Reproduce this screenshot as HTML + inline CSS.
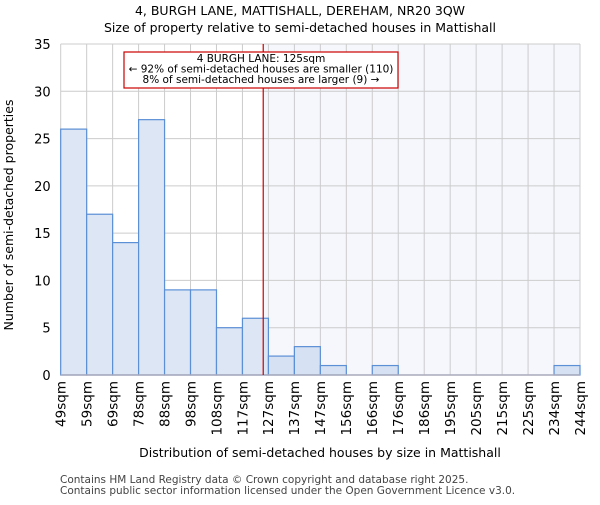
<!DOCTYPE html>
<html><head><meta charset="utf-8"><style>body{margin:0;background:#fff}svg text{font-family:"DejaVu Sans","Liberation Sans",sans-serif}</style></head><body>
<svg id="c" width="600" height="500" xmlns="http://www.w3.org/2000/svg"></svg>
<script>
const tickLabels=["49sqm","59sqm","69sqm","78sqm","88sqm","98sqm","108sqm","117sqm","127sqm","137sqm","147sqm","156sqm","166sqm","176sqm","186sqm","195sqm","205sqm","215sqm","225sqm","234sqm","244sqm"];
const counts=[26,17,14,27,9,9,5,6,2,3,1,0,1,0,0,0,0,0,0,1];
const yTicks=[0,5,10,15,20,25,30,35];
const propertyBin=7.8;
const L=60.7,R=580,T=44,B=375,yMax=35;
const bw=(R-L)/counts.length;
const xs=i=>L+i*bw, ys=v=>B-(B-T)*v/yMax;
const svg=document.getElementById('c');const NS="http://www.w3.org/2000/svg";
function mk(t,a,txt){const e=document.createElementNS(NS,t);for(const k in a)e.setAttribute(k,a[k]);if(txt!=null)e.textContent=txt;svg.appendChild(e);return e;}
let e;
e=mk('text',{x:300,y:15,'text-anchor':'middle','font-size':12.5},'4, BURGH LANE, MATTISHALL, DEREHAM, NR20 3QW');

e=mk('text',{x:300,y:32,'text-anchor':'middle','font-size':12.5},'Size of property relative to semi-detached houses in Mattishall');

const px=xs(propertyBin);
e=mk('rect',{x:px,y:T,width:R-px,height:B-T,fill:'#f5f7fd'});

for(let i=0;i<=counts.length;i++){e=mk('line',{x1:xs(i),x2:xs(i),y1:T,y2:B,stroke:'#ccc','stroke-width':1});
}
yTicks.forEach(v=>{e=mk('line',{x1:L,x2:R,y1:ys(v),y2:ys(v),stroke:'#ccc','stroke-width':1});

e=mk('text',{x:L-10,y:ys(v)+5,'text-anchor':'end','font-size':13},String(v));
});
counts.forEach((v,i)=>{if(v<=0)return;e=mk('rect',{x:xs(i),y:ys(v),width:bw,height:B-ys(v),fill:i>=8?'#d6e1f3':'#dce6f4',stroke:'#5b8fd6','stroke-width':1.2});
});
e=mk('line',{x1:L,x2:R,y1:B,y2:B,stroke:'#aab','stroke-width':1.5});

tickLabels.forEach((t,i)=>{const x=xs(i);e=mk('text',{x:0,y:0,'text-anchor':'end','font-size':13.5,transform:`translate(${x+4.8},381) rotate(-90)`},t);
});
e=mk('line',{x1:px,x2:px,y1:T,y2:B,stroke:'#c00','stroke-width':1.2});

e=mk('rect',{x:124,y:52,width:274,height:36,fill:'#fff',stroke:'#c00','stroke-width':1.2});

[['4 BURGH LANE: 125sqm',62],['← 92% of semi-detached houses are smaller (110)',72.5],['8% of semi-detached houses are larger (9) →',83]].forEach(([t,y])=>{
e=mk('text',{x:261,y:y,'text-anchor':'middle','font-size':10.5},t);
});
e=mk('text',{x:320,y:457,'text-anchor':'middle','font-size':12.5},'Distribution of semi-detached houses by size in Mattishall');

e=mk('text',{x:0,y:0,'text-anchor':'middle','font-size':12.5,transform:'translate(13,215) rotate(-90)'},'Number of semi-detached properties');

e=mk('text',{x:60,y:483,'font-size':10.5,fill:'#444'},'Contains HM Land Registry data © Crown copyright and database right 2025.');

e=mk('text',{x:60,y:494,'font-size':10.5,fill:'#444'},'Contains public sector information licensed under the Open Government Licence v3.0.');

</script></body></html>
